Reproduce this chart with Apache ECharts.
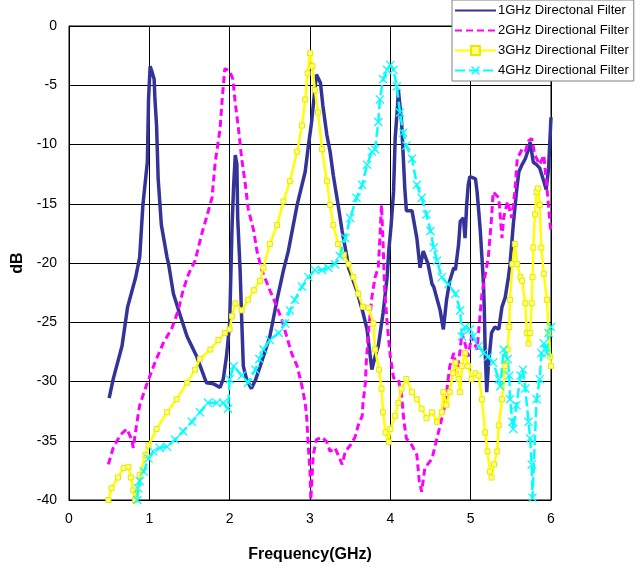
<!DOCTYPE html>
<html>
<head>
<meta charset="utf-8">
<script src="https://cdn.jsdelivr.net/npm/echarts@6/dist/echarts.min.js"></script>
<style>
  html, body { margin: 0; padding: 0; background: #fff; }
  #chart { width: 641px; height: 568px; }
</style>
</head>
<body>
<div id="chart"></div>
<script>
// Frequency (GHz) and response (dB) for each directional filter
const freq1 = [0.50,0.55,0.66,0.73,0.83,0.88,0.92,0.975,0.99,1.01,1.03,1.06,1.07,1.09,1.11,1.15,1.22,1.24,1.30,1.36,1.47,1.59,1.65,1.71,1.80,1.88,1.92,1.96,2.00,2.03,2.05,2.07,2.09,2.10,2.13,2.15,2.17,2.21,2.27,2.32,2.38,2.50,2.59,2.67,2.73,2.84,2.94,2.98,3.02,3.06,3.08,3.13,3.16,3.21,3.25,3.29,3.35,3.40,3.46,3.48,3.58,3.66,3.71,3.77,3.81,3.85,3.91,3.96,3.98,4.01,4.04,4.06,4.09,4.10,4.14,4.16,4.18,4.20,4.27,4.33,4.37,4.41,4.47,4.52,4.54,4.62,4.66,4.70,4.74,4.79,4.81,4.85,4.87,4.91,4.93,4.95,4.97,4.99,5.06,5.08,5.10,5.12,5.14,5.16,5.17,5.18,5.20,5.22,5.26,5.30,5.35,5.39,5.43,5.47,5.49,5.53,5.57,5.60,5.64,5.68,5.72,5.74,5.78,5.82,5.86,5.91,5.94,5.97,6.00];
const db1 = [-31.4,-29.8,-27.0,-23.7,-21.2,-19.5,-15.1,-11.5,-6.2,-3.4,-3.8,-4.5,-6.2,-8.4,-12.9,-16.8,-19.5,-20.1,-22.6,-23.9,-26.2,-27.9,-29.0,-30.1,-30.2,-30.5,-29.8,-27.9,-25.1,-16.8,-13.4,-10.9,-11.7,-16.2,-20.6,-24.8,-28.7,-29.8,-30.6,-29.9,-28.7,-26.2,-23.1,-20.6,-19.0,-15.1,-12.3,-10.1,-8.1,-5.4,-4.1,-4.8,-6.7,-9.2,-10.6,-12.6,-15.1,-17.3,-19.5,-20.4,-22.3,-24.2,-25.6,-29.0,-27.9,-27.0,-24.2,-21.2,-19.0,-16.8,-14.0,-9.5,-6.7,-5.4,-8.1,-10.9,-13.7,-15.6,-15.6,-17.9,-20.4,-19.0,-20.1,-21.8,-22.0,-24.0,-25.6,-23.1,-21.5,-20.4,-20.6,-18.4,-16.5,-16.2,-17.9,-15.1,-13.4,-12.7,-12.9,-14.0,-15.6,-17.3,-19.5,-21.8,-24.0,-27.3,-30.9,-28.7,-25.9,-25.4,-25.6,-23.7,-22.9,-21.2,-20.1,-16.8,-14.0,-12.3,-11.7,-11.2,-10.4,-9.8,-11.5,-11.7,-12.0,-13.1,-13.8,-12.0,-7.7];

const freq2 = [0.49,0.55,0.64,0.72,0.78,0.80,0.84,0.88,0.975,1.07,1.17,1.28,1.36,1.42,1.49,1.57,1.65,1.71,1.78,1.82,1.88,1.91,1.94,2.00,2.04,2.07,2.11,2.15,2.19,2.23,2.30,2.34,2.40,2.50,2.57,2.65,2.71,2.77,2.84,2.90,2.94,2.96,2.98,3.00,3.01,3.04,3.08,3.15,3.21,3.25,3.31,3.35,3.40,3.44,3.50,3.56,3.60,3.65,3.66,3.69,3.70,3.73,3.77,3.81,3.85,3.87,3.89,3.91,3.92,3.93,3.96,4.00,4.04,4.10,4.14,4.17,4.20,4.27,4.33,4.36,4.39,4.43,4.52,4.58,4.62,4.68,4.72,4.74,4.79,4.83,4.87,4.89,4.93,4.97,5.01,5.08,5.14,5.22,5.26,5.28,5.35,5.39,5.41,5.46,5.51,5.55,5.58,5.64,5.68,5.72,5.76,5.80,5.86,5.91,5.95,5.99,6.00];
const db2 = [-37.0,-35.6,-34.5,-34.0,-34.9,-35.6,-33.7,-32.0,-30.1,-28.4,-26.8,-25.5,-24.0,-22.3,-20.9,-19.8,-17.6,-16.2,-14.5,-11.5,-8.7,-5.9,-3.6,-3.8,-4.5,-6.5,-8.7,-11.2,-13.1,-15.4,-17.3,-19.0,-20.6,-22.3,-23.4,-24.8,-26.2,-27.6,-28.7,-30.4,-31.8,-33.1,-35.6,-37.6,-40.0,-36.2,-34.9,-34.7,-35.1,-35.9,-35.6,-36.2,-37.0,-35.9,-35.4,-34.7,-33.7,-32.9,-31.8,-30.1,-28.4,-25.6,-22.9,-21.2,-20.4,-17.9,-15.1,-18.4,-20.4,-22.3,-25.1,-27.9,-29.7,-29.8,-31.2,-33.4,-34.8,-35.4,-36.2,-38.4,-39.3,-37.3,-36.5,-34.8,-33.7,-32.0,-29.8,-28.7,-27.6,-29.3,-27.3,-25.9,-26.8,-27.9,-26.2,-27.3,-22.6,-19.5,-16.2,-14.0,-14.5,-17.9,-16.2,-14.8,-16.2,-14.0,-11.2,-10.4,-10.6,-9.7,-9.5,-10.9,-11.7,-10.9,-13.7,-16.8,-17.3];

const freq3 = [0.49,0.53,0.61,0.68,0.74,0.77,0.80,0.82,0.88,0.95,0.99,1.09,1.22,1.34,1.47,1.57,1.63,1.76,1.86,1.94,2.00,2.03,2.07,2.15,2.23,2.30,2.38,2.42,2.50,2.59,2.67,2.75,2.84,2.90,2.94,2.97,3.00,3.03,3.06,3.10,3.15,3.21,3.25,3.29,3.35,3.42,3.48,3.54,3.60,3.66,3.73,3.79,3.81,3.86,3.89,3.91,3.94,3.98,4.00,4.06,4.10,4.14,4.20,4.27,4.33,4.39,4.45,4.52,4.58,4.64,4.66,4.70,4.74,4.78,4.81,4.85,4.87,4.89,4.93,4.97,5.01,5.06,5.10,5.14,5.18,5.21,5.24,5.26,5.29,5.33,5.35,5.39,5.43,5.46,5.48,5.49,5.52,5.55,5.58,5.62,5.64,5.68,5.70,5.72,5.74,5.76,5.77,5.78,5.80,5.82,5.84,5.86,5.88,5.91,5.95,5.97,5.99,6.00];
const db3 = [-40.0,-39.0,-38.1,-37.3,-37.2,-38.1,-39.2,-40.0,-37.9,-36.2,-35.4,-34.0,-32.6,-31.5,-30.1,-29.0,-28.1,-27.3,-26.5,-25.9,-25.6,-24.5,-23.4,-24.0,-23.1,-22.3,-21.5,-20.4,-18.4,-16.8,-14.8,-13.1,-10.6,-8.4,-6.2,-4.0,-2.3,-3.4,-5.4,-7.3,-10.4,-13.1,-15.1,-16.8,-18.4,-19.3,-20.1,-21.2,-22.6,-23.7,-23.8,-25.1,-27.3,-29.0,-30.6,-32.6,-34.3,-35.1,-34.0,-32.9,-31.8,-30.6,-29.8,-30.9,-31.5,-32.3,-33.1,-32.6,-33.4,-32.6,-30.9,-32.0,-30.9,-29.3,-28.4,-29.8,-30.9,-28.7,-27.6,-28.7,-29.8,-29.3,-29.5,-31.5,-34.3,-35.9,-37.6,-38.1,-37.0,-35.9,-33.7,-31.5,-28.7,-27.3,-25.4,-23.1,-20.1,-18.4,-20.1,-21.2,-21.5,-23.4,-25.9,-26.8,-25.9,-23.4,-21.2,-18.7,-15.9,-14.0,-13.7,-15.1,-18.7,-20.9,-23.1,-25.9,-27.9,-28.7];

const freq4 = [0.85,0.86,0.88,0.93,0.99,1.05,1.13,1.22,1.32,1.42,1.53,1.63,1.73,1.84,1.92,1.98,2.00,2.05,2.15,2.23,2.32,2.37,2.42,2.50,2.61,2.69,2.75,2.81,2.90,2.98,3.06,3.15,3.23,3.31,3.37,3.44,3.50,3.58,3.65,3.71,3.77,3.81,3.85,3.87,3.91,3.96,4.00,4.04,4.08,4.12,4.16,4.20,4.27,4.33,4.39,4.45,4.50,4.54,4.58,4.64,4.72,4.81,4.87,4.89,4.93,4.99,5.03,5.10,5.16,5.22,5.28,5.35,5.37,5.41,5.46,5.48,5.49,5.52,5.53,5.57,5.62,5.65,5.68,5.72,5.74,5.76,5.77,5.82,5.86,5.88,5.91,5.95,5.97,6.00];
const db4 = [-40.0,-39.0,-38.4,-37.6,-36.5,-35.9,-35.6,-35.5,-34.9,-34.2,-33.4,-32.6,-31.8,-31.8,-31.8,-32.3,-29.8,-28.7,-29.5,-30.1,-29.0,-28.1,-27.3,-26.5,-25.9,-25.1,-24.0,-23.1,-22.0,-21.2,-20.6,-20.6,-20.4,-20.1,-19.4,-17.9,-16.2,-14.5,-13.4,-11.7,-10.6,-10.4,-8.1,-6.2,-4.5,-3.7,-3.3,-3.7,-5.1,-7.3,-9.0,-10.1,-11.2,-13.4,-14.5,-15.9,-17.3,-18.7,-19.8,-21.2,-21.8,-22.6,-24.0,-26.2,-25.4,-25.6,-26.2,-27.0,-27.6,-27.9,-28.4,-29.8,-30.4,-27.3,-28.1,-29.5,-31.5,-33.4,-34.0,-32.0,-29.5,-29.0,-30.6,-33.4,-34.8,-37.0,-39.8,-31.5,-29.8,-27.6,-26.8,-27.6,-25.9,-25.4];

const seriesNames = ['1GHz Directonal Filter', '2GHz Directional Filter', '3GHz Directional Filter', '4GHz Directional Filter'];
const xTicks = [0, 1, 2, 3, 4, 5, 6];
const yTicks = [0, -5, -10, -15, -20, -25, -30, -35, -40];

const zip = (xs, ys) => xs.map((x, i) => [x, ys[i]]);
const FONT = '"Liberation Sans", Arial, sans-serif';
const crossSymbol = 'path://M0,1L1,0L5,4L9,0L10,1L6,5L10,9L9,10L5,6L1,10L0,9L4,5Z';
const NO_FILL = 'rgba(0,0,0,0)';

const chart = echarts.init(document.getElementById('chart'), null, { renderer: 'canvas' });
chart.setOption({
  animation: false,
  backgroundColor: '#fff',
  textStyle: { fontFamily: FONT },
  grid: {
    left: 69, top: 26, width: 482, height: 479,
    show: true, borderColor: '#000', borderWidth: 1, backgroundColor: 'transparent'
  },
  xAxis: {
    type: 'value',
    min: xTicks[0], max: xTicks[xTicks.length - 1], interval: 1,
    name: 'Frequency(GHz)', nameLocation: 'middle', nameGap: 47,
    nameTextStyle: { fontFamily: FONT, fontSize: 16, fontWeight: 'bold', color: '#000' },
    axisLine: { show: true, onZero: false, lineStyle: { color: '#000', width: 1 } },
    axisTick: { show: false },
    axisLabel: { fontFamily: FONT, fontSize: 14, color: '#000', margin: 12 },
    splitLine: { show: true, lineStyle: { color: '#000', width: 1 } }
  },
  yAxis: {
    type: 'value',
    min: yTicks[yTicks.length - 1], max: yTicks[0], interval: 5,
    name: 'dB', nameLocation: 'middle', nameGap: 41,
    nameTextStyle: { fontFamily: FONT, fontSize: 16, fontWeight: 'bold', color: '#000' },
    axisLine: { show: true, onZero: false, lineStyle: { color: '#000', width: 1 } },
    axisTick: { show: false },
    axisLabel: { fontFamily: FONT, fontSize: 14, color: '#000', margin: 12 },
    splitLine: { show: true, lineStyle: { color: '#000', width: 1 } }
  },
  legend: {
    orient: 'vertical',
    left: 452, top: 0,
    padding: [4, 5, 4, 2],
    itemWidth: 41, itemHeight: 11, itemGap: 7,
    backgroundColor: '#fff',
    borderColor: '#808080', borderWidth: 1,
    textStyle: { fontFamily: FONT, fontSize: 13, color: '#000', padding: [0, 0, 0, -3] },
    data: seriesNames,
    z: 10
  },
  series: [
    {
      name: seriesNames[0], type: 'line', data: zip(freq1, db1),
      symbol: 'none', color: '#333399',
      itemStyle: { color: NO_FILL, borderColor: NO_FILL },
      lineStyle: { color: '#333399', width: 3.5 }
    },
    {
      name: seriesNames[1], type: 'line', data: zip(freq2, db2),
      symbol: 'none', color: '#FF00FF',
      itemStyle: { color: NO_FILL, borderColor: NO_FILL },
      lineStyle: { color: '#FF00FF', width: 3, type: [7, 4] }
    },
    {
      name: seriesNames[2], type: 'line', data: zip(freq3, db3),
      symbol: 'rect', symbolSize: 5, showAllSymbol: true, color: '#FFFF00',
      itemStyle: { color: '#FFFF80', borderColor: '#E8E800', borderWidth: 1 },
      lineStyle: { color: '#FFFF00', width: 2.5 }
    },
    {
      name: seriesNames[3], type: 'line', data: zip(freq4, db4),
      symbol: crossSymbol, symbolSize: 9, showAllSymbol: true, color: '#00FFFF',
      itemStyle: { color: '#00FFFF' },
      lineStyle: { color: '#00FFFF', width: 2.5, type: [10, 4] }
    }
  ]
});
</script>
</body>
</html>
